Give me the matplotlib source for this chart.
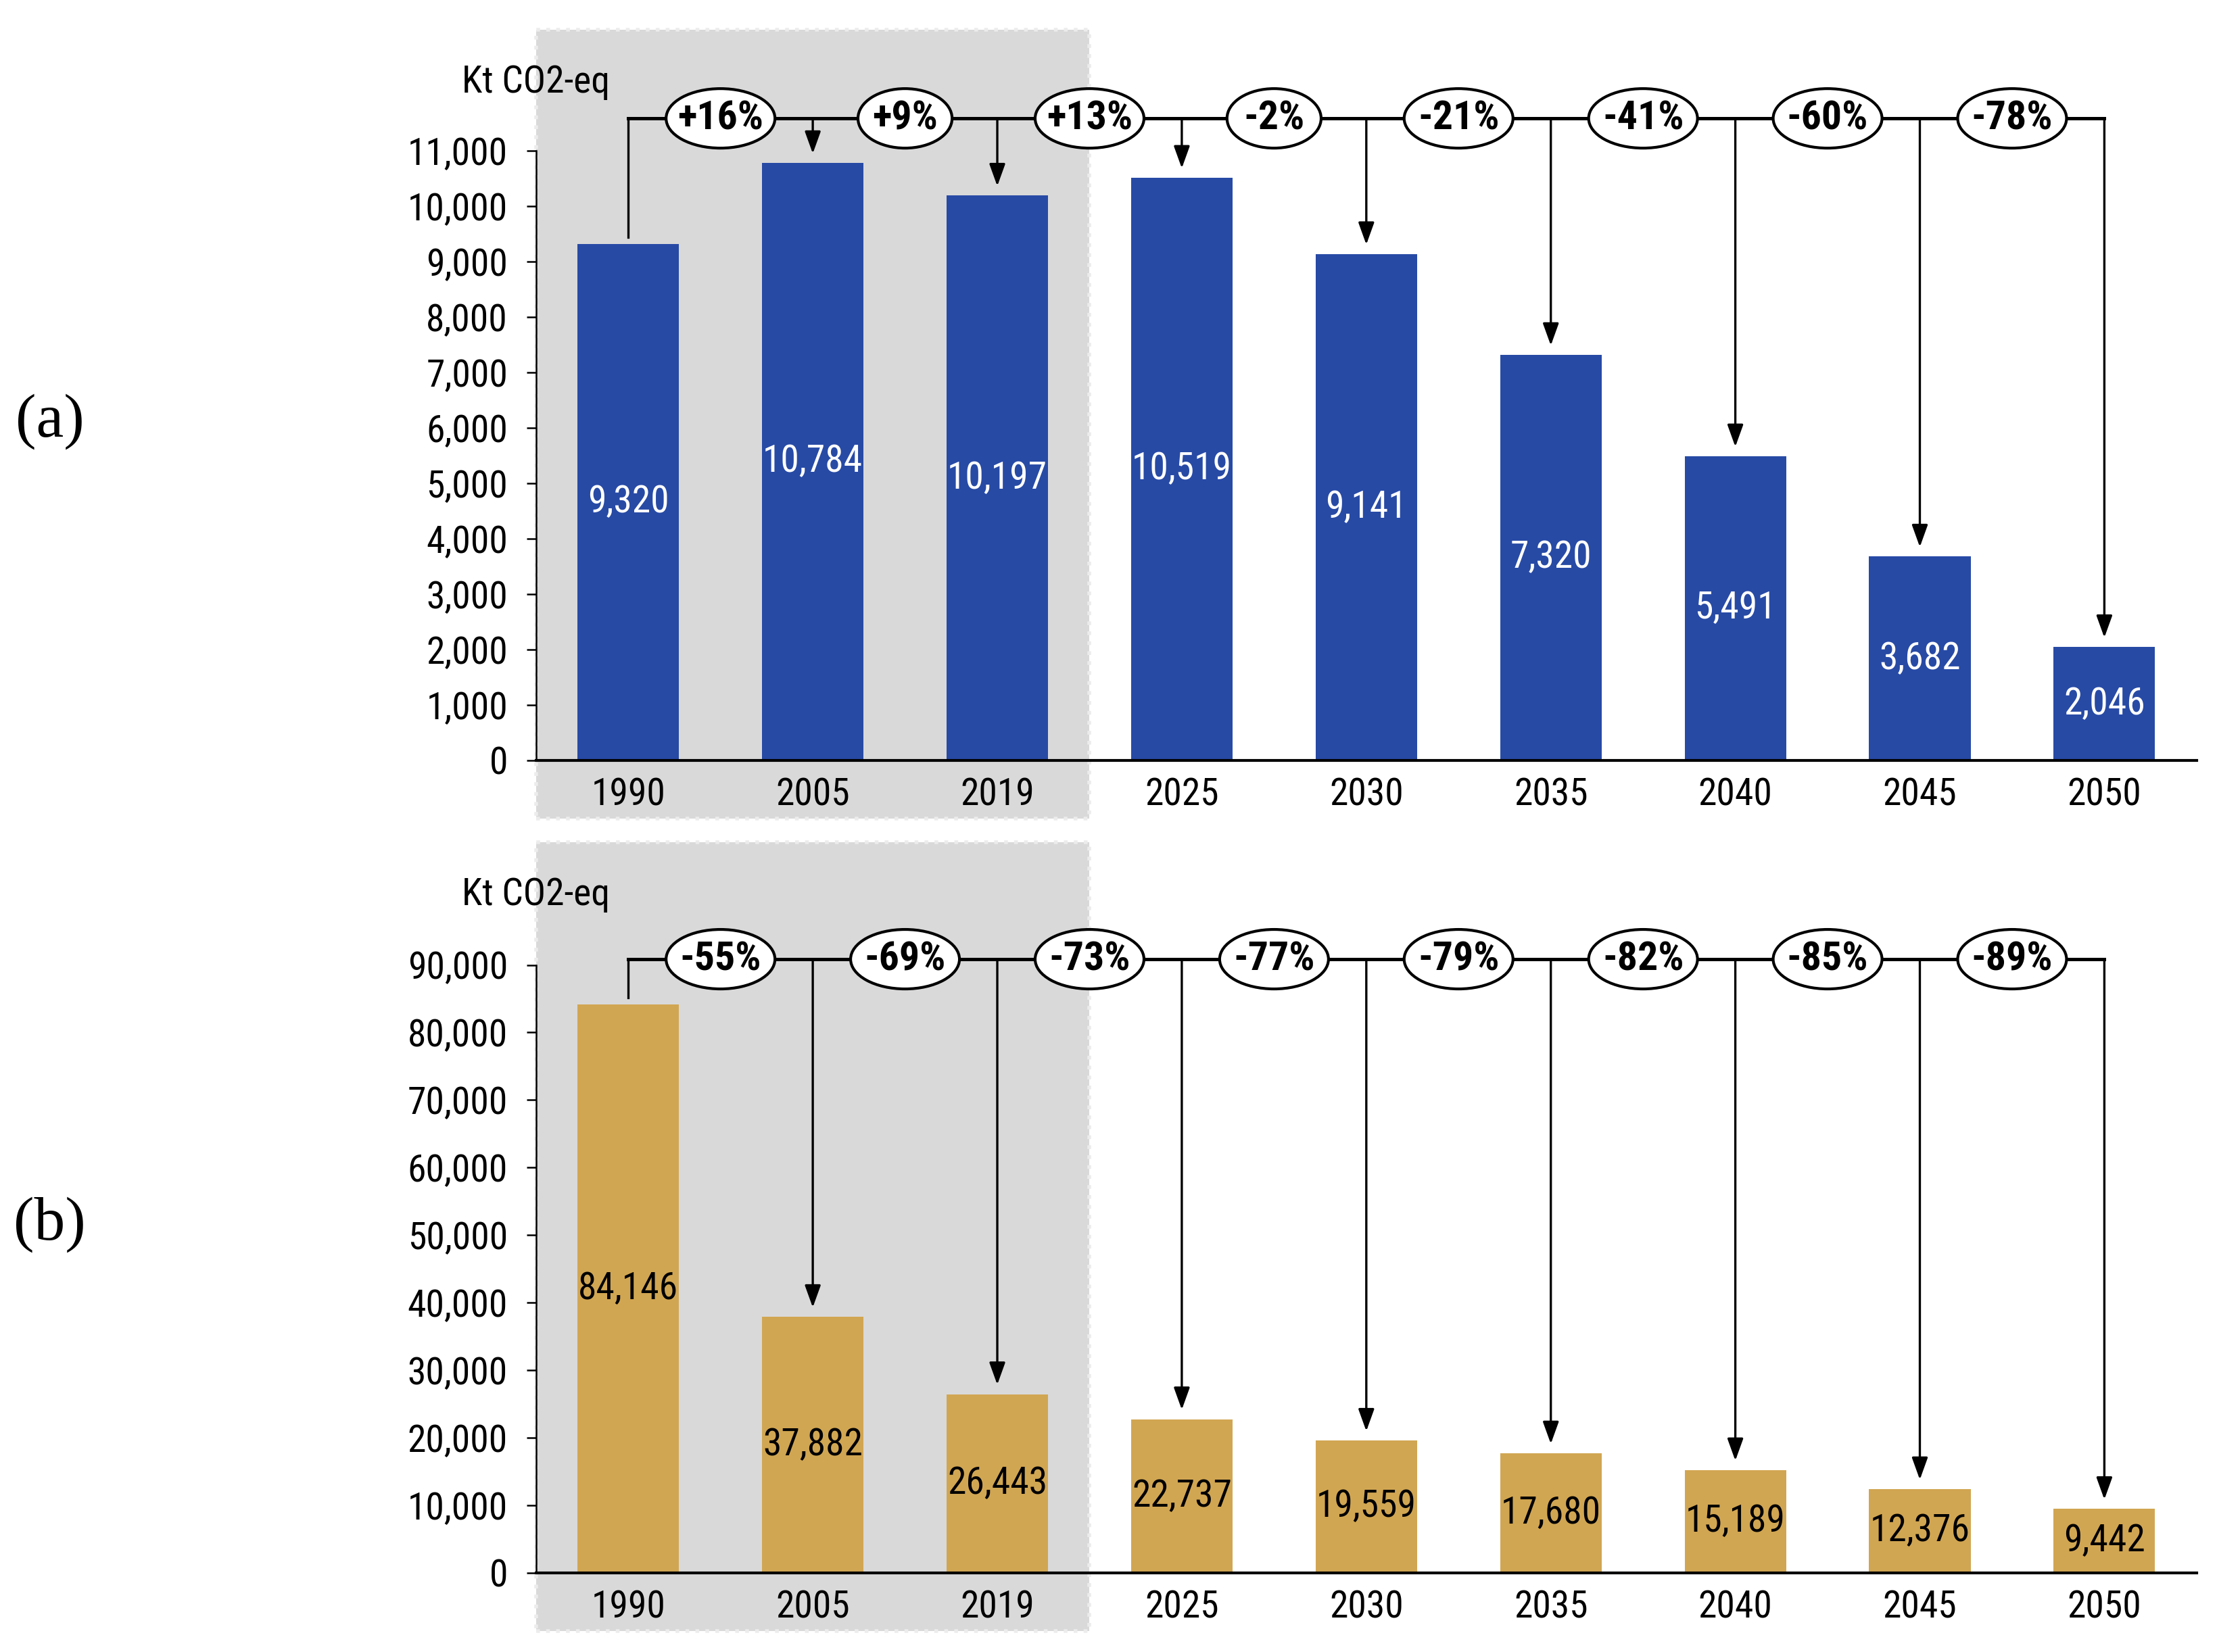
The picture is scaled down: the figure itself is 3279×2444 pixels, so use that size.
import numpy as np
import matplotlib
matplotlib.use('Agg')
import matplotlib.pyplot as plt
from matplotlib import font_manager
from matplotlib.patches import Rectangle, Ellipse

# pick a narrow sans if one is installed
names = {f.name for f in font_manager.fontManager.ttflist}
dejavu_cond = any(f.name == 'DejaVu Sans' and f.stretch == 'condensed'
                  for f in font_manager.fontManager.ttflist)
FS = 20
if 'Liberation Sans Narrow' in names:
    plt.rcParams['font.family'] = ['Liberation Sans Narrow', 'DejaVu Sans']
    FS = 20.5
elif 'Roboto Condensed' in names:
    plt.rcParams['font.family'] = ['Roboto Condensed', 'DejaVu Sans']
elif dejavu_cond:
    plt.rcParams['font.family'] = ['DejaVu Sans']
    plt.rcParams['font.stretch'] = 'condensed'
    FS = 17.5
else:
    plt.rcParams['font.family'] = ['Liberation Sans', 'DejaVu Sans']
    FS = 17

years = ['1990', '2005', '2019', '2025', '2030', '2035', '2040', '2045', '2050']
a_vals = [9320, 10784, 10197, 10519, 9141, 7320, 5491, 3682, 2046]
a_pct = ['+16%', '+9%', '+13%', '-2%', '-21%', '-41%', '-60%', '-78%']
b_vals = [84146, 37882, 26443, 22737, 19559, 17680, 15189, 12376, 9442]
b_pct = ['-55%', '-69%', '-73%', '-77%', '-79%', '-82%', '-85%', '-89%']

AX_H_PX = 0.4423 * 2444


def panel(ax, vals, pcts, color, txtcolor, ytop, step, ymax, bracket_y, gray_lo, unit_y):
    per_px = ymax / AX_H_PX
    x = np.arange(len(years))
    ax.set_xlim(-0.5, 8.5)
    ax.set_ylim(0, ymax)
    ax.add_patch(Rectangle((-0.5, gray_lo), 3, ymax - gray_lo, facecolor='#d9d9d9',
                           edgecolor='#ececec', lw=2, ls=':', clip_on=False, zorder=0))
    ax.bar(x, vals, width=0.55, color=color, zorder=2)
    for s in ['top', 'right']:
        ax.spines[s].set_visible(False)
    ax.spines['left'].set_bounds(0, ytop)
    ax.spines['left'].set_linewidth(0.9)
    ax.spines['bottom'].set_linewidth(1.5)
    ax.spines['bottom'].set_zorder(3)
    ticks = np.arange(0, ytop + step, step)
    ax.set_yticks(ticks)
    ax.set_yticklabels([f'{t:,}' for t in ticks], fontsize=FS)
    ax.tick_params(axis='y', length=5, width=0.9, pad=10)
    ax.set_xticks(x)
    ax.set_xticklabels(years, fontsize=FS)
    ax.tick_params(axis='x', length=0, pad=9)
    ax.set_facecolor('none')

    for i, v in enumerate(vals):
        ax.text(i, v / 2, f'{v:,}', ha='center', va='center', color=txtcolor,
                fontsize=FS, zorder=5)

    # bracket line and arrows
    ax.plot([0, 8], [bracket_y, bracket_y], color='black', lw=1.8, zorder=3, clip_on=False)
    ax.plot([0, 0], [vals[0] + 10 * per_px, bracket_y], color='black', lw=1.2,
            zorder=3, clip_on=False)
    for i in range(1, len(vals)):
        ax.annotate('', xy=(i, vals[i] + 14 * per_px), xytext=(i, bracket_y),
                    arrowprops=dict(arrowstyle='-|>,head_length=0.5,head_width=0.18',
                                    color='black', lw=1.2, mutation_scale=20,
                                    shrinkA=0, shrinkB=0),
                    zorder=3, annotation_clip=False)
    for i, p in enumerate(pcts):
        w = 0.27 + 0.08 * len(p)
        ax.add_patch(Ellipse((i + 0.5, bracket_y), w, 88 * per_px, facecolor='white',
                             edgecolor='black', lw=1.5, zorder=4, clip_on=False))
        ax.text(i + 0.5, bracket_y, p, ha='center', va='center', fontsize=FS + 1.5,
                fontweight='bold', zorder=5)
    ax.text(-0.5, unit_y, 'Kt CO2-eq', ha='center', va='center', fontsize=FS)


fig = plt.figure(figsize=(16.4, 12.22), dpi=200)
ax1 = fig.add_axes([0.2417, 0.5397, 0.7488, 0.4423])
ax2 = fig.add_axes([0.2417, 0.0480, 0.7488, 0.4423])

panel(ax1, a_vals, a_pct, '#274AA5', 'white', 11000, 1000, 13190, 11590, -1054, 12240)
panel(ax2, b_vals, b_pct, '#D1A652', 'black', 90000, 10000, 108200, 90850, -8650, 100400)

serif = ['Liberation Serif', 'DejaVu Serif']
fig.text(0.0225, 0.745, '(a)', fontsize=33, family=serif, ha='center', va='center',
         stretch='normal')
fig.text(0.0225, 0.2586, '(b)', fontsize=33, family=serif, ha='center', va='center',
         stretch='normal')

fig.savefig('out.png', dpi=200)
